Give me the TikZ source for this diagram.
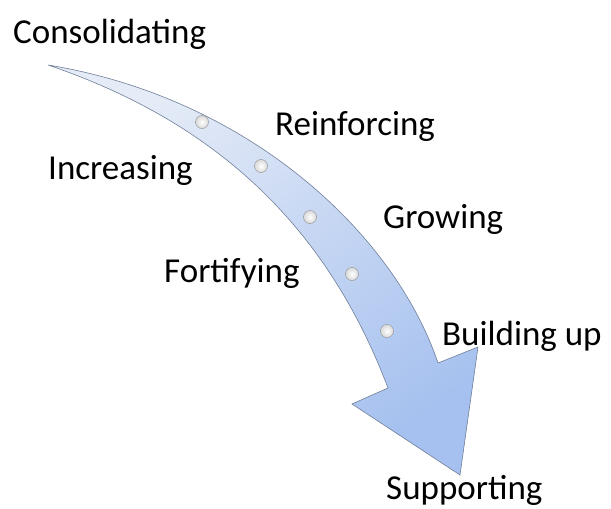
\documentclass[tikz,border=0pt]{standalone}
\usepackage{fontspec}
\setmainfont{Carlito}
\usepackage{tikz}
\usetikzlibrary{positioning}
\usepackage{xcolor}
\definecolor{arrowlight}{HTML}{E6ECF7}
\definecolor{arrowdark}{HTML}{A6C1EF}
\definecolor{arrowedge}{HTML}{6F7F98}

\begin{document}
\begin{tikzpicture}[x=1pt, y=-1pt,
       word/.style={anchor=base west, inner sep=0pt, font=\fontsize{35}{42}\selectfont},
       dot/.style={circle, draw=gray!90, inner sep=0pt, minimum size=13pt, inner color=white, outer color=gray!30}]
       \useasboundingbox (0, 0) rectangle (611, 509);

       % the bent arrow
       \draw[arrowedge, line width=.6pt, top color=arrowlight, bottom color=arrowdark, shading angle=35]
            (48, 65) .. controls (250, 98) and (395, 235) .. (438, 363)
            -- (478, 347) -- (460, 475) -- (352, 404) -- (388, 388)
            .. controls (330, 235) and (225, 125) .. cycle;

       \node[dot] (d1) at (202, 122) {};
       \node[dot] (d2) at (261, 166) {};
       \node[dot] (d3) at (310, 217) {};
       \node[dot] (d4) at (352, 274) {};
       \node[dot] (d5) at (387, 331) {};

       \node[word] (consolidating) at (13, 43)  {Consolidating};
       \node[word] (reinforcing)   at (275, 135) {Reinforcing};
       \node[word] (increasing)    at (48, 179)  {Increasing};
       \node[word] (growing)       at (383, 228) {Growing};
       \node[word] (fortifying)    at (164, 282) {Fortifying};
       \node[word] (buildingup)    at (442, 345) {Building up};
       \node[word] (supporting)    at (386, 499) {Supporting};
    \end{tikzpicture}
\end{document}
